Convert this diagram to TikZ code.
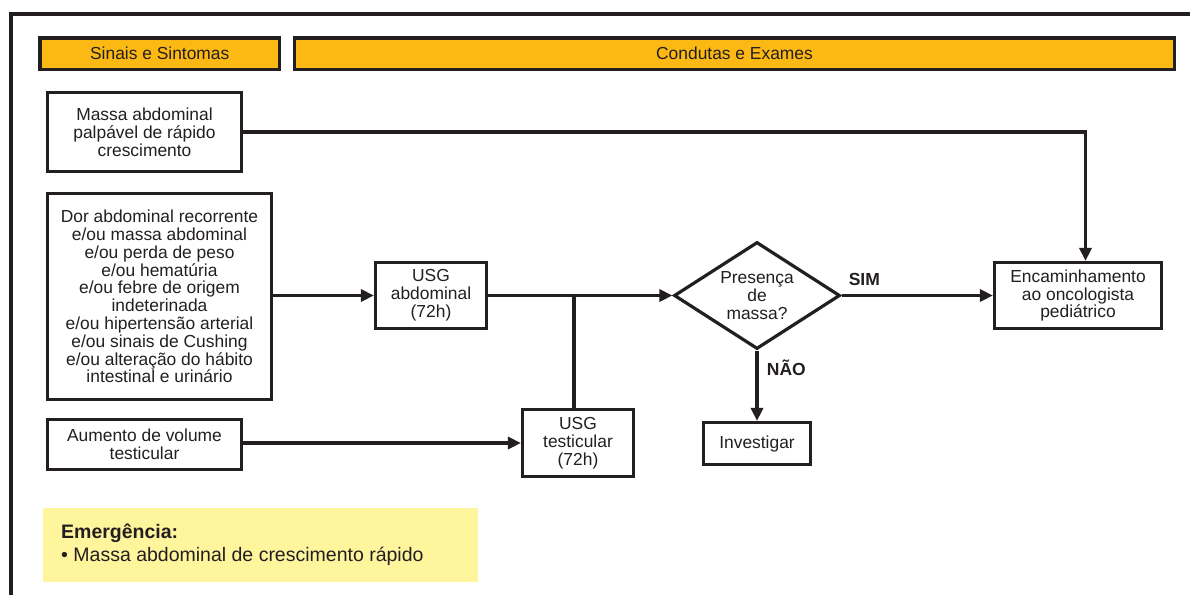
\documentclass[tikz,border=0pt]{standalone}
\usepackage{fontspec}
\setmainfont{Liberation Sans}
\usetikzlibrary{arrows.meta,shapes.geometric}
\definecolor{ink}{HTML}{231F20}
\definecolor{headfill}{HTML}{FDB913}
\definecolor{notefill}{HTML}{FFF59D}

\begin{document}
\begin{tikzpicture}[x=1pt,y=-1pt,
  every node/.style={font=\fontsize{17.4}{17.8}\selectfont, text=ink},
  header/.style={draw=ink, line width=3.2pt, fill=headfill, inner sep=0pt},
  box/.style={draw=ink, line width=3.2pt, fill=white, align=center, inner sep=0pt},
  decision/.style={diamond, aspect=1.55, draw=ink, line width=3.2pt, fill=white, align=center, inner sep=0pt},
  link/.style={draw=ink, line width=3.2pt},
  arrow/.style={link, -{Triangle[length=13pt,width=12pt]}},
  answer/.style={font=\fontsize{17.5}{18}\bfseries\selectfont},
  notetext/.style={font=\fontsize{19.5}{20}\selectfont, anchor=west, inner sep=0pt}
]
\useasboundingbox (0,0) rectangle (1190,595);

% outer frame (open to the right and bottom)
\draw[ink, line width=4.5pt] (11,595) -- (11,14) -- (1190,14);

% column headers
\node[header, minimum width=239.5pt, minimum height=31.5pt] (hsign) at (159.75,53.75) {Sinais e Sintomas};
\node[header, minimum width=880pt, minimum height=31.5pt] (hcond) at (734.5,53.75) {Condutas e Exames};

% signs and symptoms
\node[box, minimum width=194pt, minimum height=79pt] (mass) at (144.5,132)
  {Massa abdominal\\palpável de rápido\\crescimento};
\node[box, minimum width=224pt, minimum height=206pt] (pain) at (159.5,296.5)
  {Dor abdominal recorrente\\e/ou massa abdominal\\e/ou perda de peso\\e/ou hematúria\\e/ou febre de origem\\indeterinada\\e/ou hipertensão arterial\\e/ou sinais de Cushing\\e/ou alteração do hábito\\intestinal e urinário};
\node[box, minimum width=194pt, minimum height=50pt] (testis) at (144.5,444.5)
  {Aumento de volume\\testicular};

% exams and decisions
\node[box, minimum width=111pt, minimum height=66pt] (usga) at (431,295.5) {USG\\abdominal\\(72h)};
\node[box, minimum width=111pt, minimum height=67pt] (usgt) at (578,443) {USG\\testicular\\(72h)};
\node[decision, minimum width=166pt, minimum height=107pt] (dec) at (757,295.5) {Presença\\de\\massa?};
\node[box, minimum width=167pt, minimum height=66pt] (onco) at (1078,295.5)
  {Encaminhamento\\ao oncologista\\pediátrico};
\node[box, minimum width=107pt, minimum height=42pt] (invest) at (757,443.5) {Investigar};

% connectors
\coordinate (bend) at (1085.5,132);
\coordinate (join) at (574,295.5);
\draw[arrow] (mass.east) -- (bend) -- (bend |- onco.north);
\draw[arrow] (usga.west -| pain.east) -- (usga.west);
\draw[arrow] (usga.east) -- (dec.west);
\draw[link] (usgt.north -| join) -- (join);
\draw[arrow] (usgt.west -| testis.east) -- (usgt.west);
\draw[arrow] (dec.east) -- node[answer, above, pos=0.15, yshift=5pt] (yes) {SIM} (onco.west);
\draw[arrow] (dec.south) -- node[answer, right, pos=0.25, xshift=5pt] (no) {NÃO} (invest.north);

% emergency note
\node[fill=notefill, minimum width=435pt, minimum height=74pt, inner sep=0pt] (note) at (260.5,545) {};
\node[notetext, font=\fontsize{19.5}{20}\bfseries\selectfont] (notetitle) at (61,533) {Emergência:};
\node[notetext] (noteitem) at (61,556) {\textbullet{} Massa abdominal de crescimento rápido};
\end{tikzpicture}
\end{document}
